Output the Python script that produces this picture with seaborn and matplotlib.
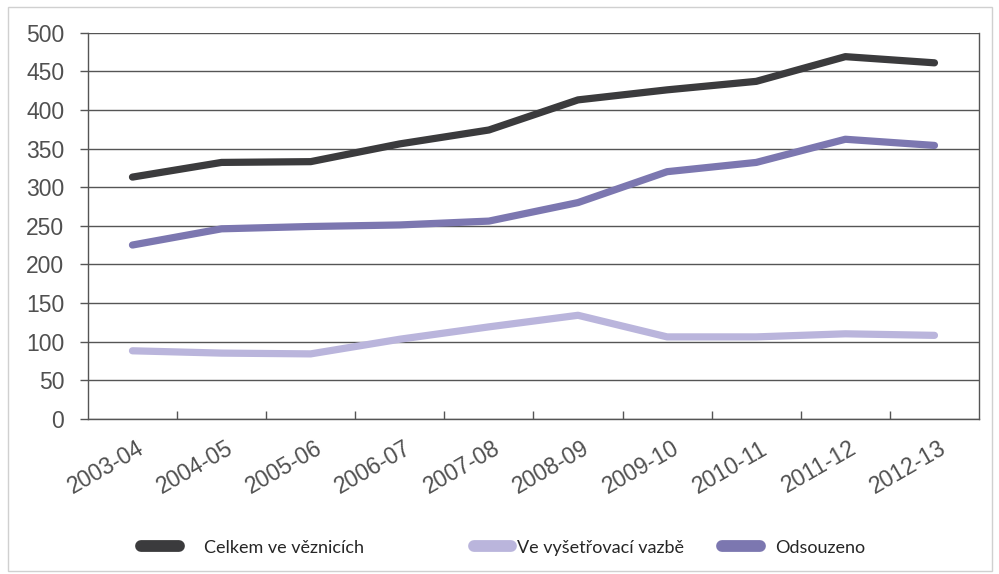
import pandas as pd
import numpy as np
import matplotlib
matplotlib.use("Agg")
import matplotlib.pyplot as plt
import matplotlib.transforms as mtransforms
import seaborn as sns
from matplotlib.patches import Rectangle

# data
years = ['2003-04', '2004-05', '2005-06', '2006-07', '2007-08',
         '2008-09', '2009-10', '2010-11', '2011-12', '2012-13']
celkem = [313, 332, 333, 356, 374, 413, 426, 437, 469, 461]
vazba = [88, 85, 84, 103, 119, 134, 106, 106, 110, 108]
odsouzeno = [225, 246, 249, 251, 256, 280, 320, 332, 362, 354]

series_names = ['Celkem ve věznicích', 'Ve vyšetřovací vazbě', 'Odsouzeno']
colors = ['#3b3b3d', '#bab5dc', '#7c77b0']

df = pd.DataFrame({'rok': years * 3,
                   'pocet': celkem + vazba + odsouzeno,
                   'serie': np.repeat(series_names, len(years))})
df['x'] = list(range(len(years))) * 3

sns.set_style('white')
plt.rcParams['font.family'] = ['Liberation Sans', 'DejaVu Sans']

fig = plt.figure(figsize=(9.99, 5.74), dpi=100)
ax = fig.add_axes([0.088, 0.2705, 0.892, 0.6725])

sns.lineplot(data=df, x='x', y='pocet', hue='serie', palette=colors,
             hue_order=series_names, linewidth=5.2, ax=ax, legend=False,
             solid_capstyle='round', solid_joinstyle='round')

ax.set_xlim(-0.5, len(years) - 0.5)
ax.set_ylim(0, 500)
ax.set_yticks(range(0, 501, 50))
ax.tick_params(axis='y', labelsize=16.5, colors='#555555', labelcolor='#505050',
               length=6, width=1, direction='out', pad=11, left=True)
ax.set_xticks(range(len(years)))
ax.set_xticklabels(years, rotation=30, ha='right', va='top',
                   rotation_mode='anchor', fontsize=16.5, color='#505050')
ax.tick_params(axis='x', length=0, pad=13)
shift = mtransforms.ScaledTranslation(0.04, 0, fig.dpi_scale_trans)
for lab in ax.get_xticklabels():
    lab.set_transform(lab.get_transform() + shift)
ax.set_xticks(np.arange(0.5, len(years) - 1, 1), minor=True)
ax.tick_params(axis='x', which='minor', direction='in', length=6,
               width=1, colors='#555555', bottom=True)
ax.grid(axis='y', color='#555555', linewidth=1)
ax.set_axisbelow(True)
ax.set_xlabel('')
ax.set_ylabel('')
for side in ['left', 'bottom', 'right']:
    ax.spines[side].set_color('#555555')
    ax.spines[side].set_linewidth(1)
ax.spines['top'].set_visible(False)

# legend under the chart, one entry at a time
leg_x = [0.141, 0.474, 0.723]
leg_pad = [1.4, 0.3, 0.85]
for name, c, x0, tp in zip(series_names, colors, leg_x, leg_pad):
    h = plt.Line2D([0], [0], color=c, linewidth=8.5, solid_capstyle='round')
    fig.legend([h], [name], loc='center left', bbox_to_anchor=(x0, 0.046),
               frameon=False, borderpad=0, borderaxespad=0,
               handlelength=2.1, handletextpad=tp,
               prop={'family': 'Lato', 'size': 13})

# thin outer frame
fig.patches.append(Rectangle((0.008, 0.005), 0.985, 0.983, transform=fig.transFigure,
                             fill=False, edgecolor='#d0d0d0', linewidth=1))

fig.savefig('out.png', dpi=100)
